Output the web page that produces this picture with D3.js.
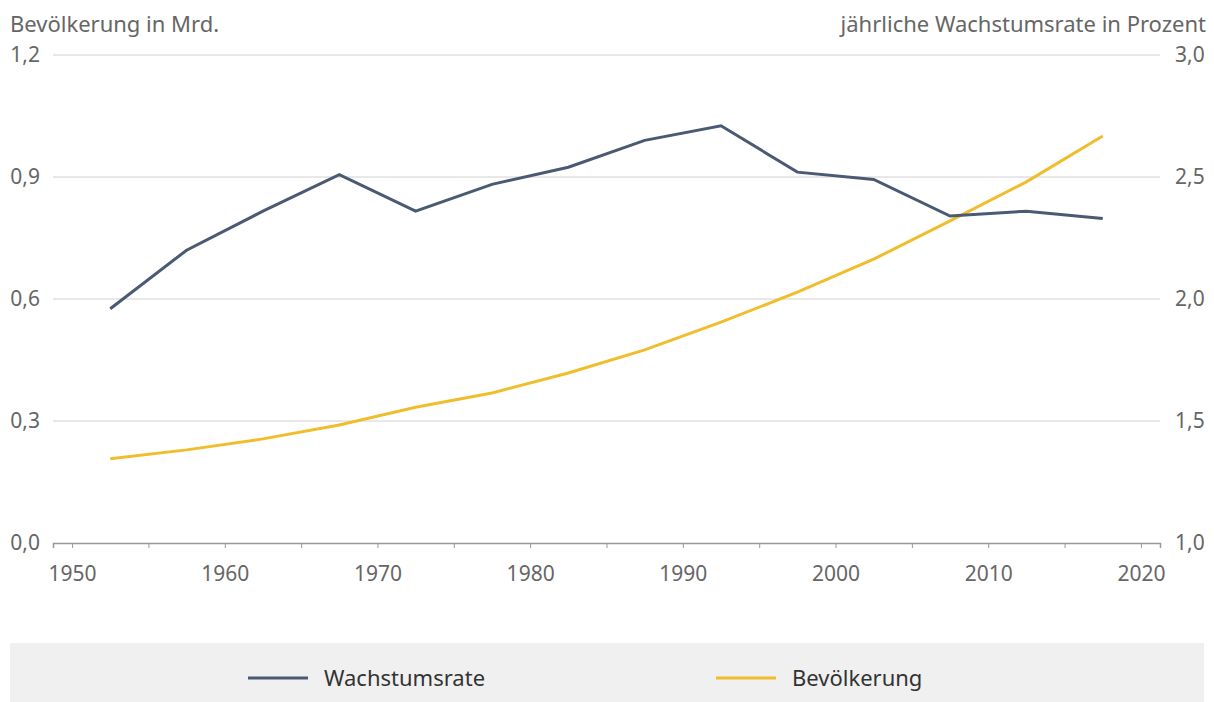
<!DOCTYPE html>
<html>
<head>
<meta charset="utf-8">
<script src="https://cdn.jsdelivr.net/npm/d3@7"></script>
<style>
  body { margin: 0; background: #fff; font-family: "Noto Sans", sans-serif; }
  .tick text { fill: #666; font-size: 21px; font-family: "Noto Sans", sans-serif; }
</style>
</head>
<body>
<div id="chart"></div>
<script>
// data
var years = [1952.5, 1957.5, 1962.5, 1967.5, 1972.5, 1977.5, 1982.5, 1987.5, 1992.5, 1997.5, 2002.5, 2007.5, 2012.5, 2017.5];
var wachstum = [1.96, 2.20, 2.36, 2.51, 2.36, 2.47, 2.54, 2.65, 2.71, 2.52, 2.49, 2.34, 2.36, 2.33];
var bevoelkerung = [0.207, 0.229, 0.256, 0.290, 0.334, 0.369, 0.418, 0.475, 0.543, 0.617, 0.698, 0.792, 0.888, 1.001];
var leftTicks = [0, 0.3, 0.6, 0.9, 1.2];
var rightTicks = [1.0, 1.5, 2.0, 2.5, 3.0];
var xTicks = [1950, 1960, 1970, 1980, 1990, 2000, 2010, 2020];
var legendItems = [["Wachstumsrate", "#4a5a73"], ["Bevölkerung", "#f0be2c"]];

var W = 1214, H = 702;
var x0 = 53, x1 = 1160, yTop = 55, yBot = 543;

var svg = d3.select("#chart").append("svg")
    .attr("width", W)
    .attr("height", H);

var x = d3.scaleLinear().domain([1948.75, 2021.25]).range([x0, x1]);
var yL = d3.scaleLinear().domain([0, 1.2]).range([yBot, yTop]);
var yR = d3.scaleLinear().domain([1, 3]).range([yBot, yTop]);

var fmt = function(d) { return d3.format(".1f")(d).replace(".", ","); };

// gridlines
svg.append("g")
  .selectAll("line")
  .data(leftTicks.slice(1))
  .enter().append("line")
    .attr("x1", x0).attr("x2", x1)
    .attr("y1", function(d) { return yL(d); })
    .attr("y2", function(d) { return yL(d); })
    .attr("stroke", "#d0d0d0")
    .attr("stroke-width", 1);

// left axis
var gL = svg.append("g")
    .attr("transform", "translate(" + x0 + ",0)")
    .call(d3.axisLeft(yL).tickValues(leftTicks).tickFormat(fmt).tickSize(0).tickPadding(13));
gL.select(".domain").remove();

// right axis
var gR = svg.append("g")
    .attr("transform", "translate(" + x1 + ",0)")
    .call(d3.axisRight(yR).tickValues(rightTicks).tickFormat(fmt).tickSize(0).tickPadding(15));
gR.select(".domain").remove();

// x axis
var gX = svg.append("g")
    .attr("transform", "translate(0," + yBot + ")")
    .call(d3.axisBottom(x).tickValues(d3.range(1950, 2021, 5)).tickSize(5).tickPadding(18)
      .tickFormat(function(d) { return xTicks.indexOf(d) >= 0 ? d : ""; }));
gX.select(".domain").attr("stroke", "#999").attr("stroke-width", 1.5);
gX.selectAll(".tick line").attr("stroke", "#999");

// axis titles
svg.append("text")
    .attr("x", 10).attr("y", 32)
    .attr("fill", "#666")
    .style("font-size", "22px")
    .text("Bevölkerung in Mrd.");
svg.append("text")
    .attr("x", 1206).attr("y", 32)
    .attr("text-anchor", "end")
    .attr("fill", "#666")
    .style("font-size", "22px")
    .text("jährliche Wachstumsrate in Prozent");

// lines
var lineR = d3.line()
    .x(function(d, i) { return x(years[i]); })
    .y(function(d) { return yR(d); });
var lineL = d3.line()
    .x(function(d, i) { return x(years[i]); })
    .y(function(d) { return yL(d); });

svg.append("path")
    .datum(bevoelkerung)
    .attr("d", lineL)
    .attr("fill", "none")
    .attr("stroke", legendItems[1][1])
    .attr("stroke-width", 3);

svg.append("path")
    .datum(wachstum)
    .attr("d", lineR)
    .attr("fill", "none")
    .attr("stroke", legendItems[0][1])
    .attr("stroke-width", 3);

// legend
svg.append("rect")
    .attr("x", 10).attr("y", 643)
    .attr("width", 1194).attr("height", 59)
    .attr("fill", "#f0f0f0");

var leg = svg.selectAll(".leg")
  .data(legendItems)
  .enter().append("g")
    .attr("class", "leg")
    .attr("transform", function(d, i) { return "translate(" + (248 + i * 468) + ",678)"; });
leg.append("line")
    .attr("x1", 0).attr("x2", 60)
    .attr("stroke", function(d) { return d[1]; })
    .attr("stroke-width", 3);
leg.append("text")
    .attr("x", 76).attr("dy", "0.35em")
    .attr("fill", "#333")
    .style("font-size", "22px")
    .text(function(d) { return d[0]; });
</script>
</body>
</html>
